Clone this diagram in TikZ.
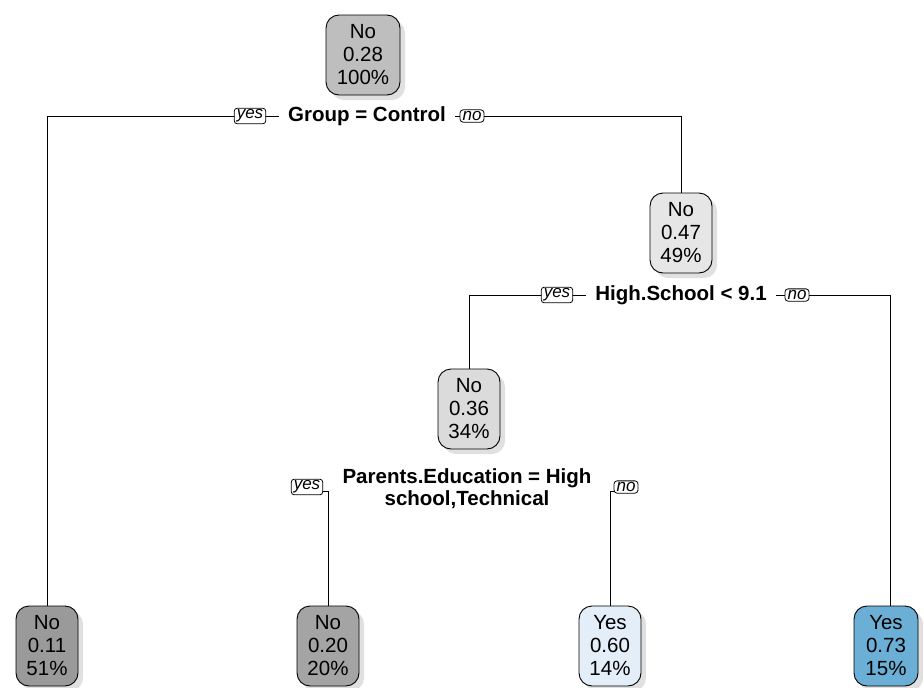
\documentclass[tikz,border=0pt]{standalone}
\usepackage{fontspec}
\setmainfont{Liberation Sans}
\begin{document}
\begin{tikzpicture}[x=1pt,y=-1pt,
  nodebox/.style={draw=black, line width=0.9pt, rounded corners=13pt, minimum width=62pt, minimum height=80pt, align=center, inner sep=0pt, font=\fontsize{20.5}{23}\selectfont},
  shadowbox/.style={fill=black!22, draw=none, rounded corners=13pt, minimum width=62pt, minimum height=80pt, inner sep=0pt},
  splittext/.style={fill=white, inner xsep=9pt, inner ysep=1pt, align=center, font=\bfseries\fontsize{20.5}{22}\selectfont},
  yn/.style={draw=black, fill=white, line width=0.8pt, rounded corners=3pt, inner xsep=2.5pt, inner ysep=1.5pt, font=\itshape\fontsize{17}{17}\selectfont},
  conn/.style={line width=0.9pt, black}
]
\useasboundingbox (0,0) rectangle (924,688);
\fill[white] (0,0) rectangle (924,688);

% shadows
\foreach \x/\y/\w in {368/60/74, 686/238/62, 474/414/62, 52/651/62, 333/651/62, 615/651/62, 891/651/64}{
  \node[shadowbox, minimum width=\w pt, opacity=0.55] at (\x,\y) {};
}

% connector corner points
\coordinate (s1L) at (47,116);
\coordinate (s1R) at (681,116);
\coordinate (s2L) at (469,295);
\coordinate (s2R) at (890,295);
\coordinate (s3L) at (307,491);
\coordinate (s3R) at (626,491);

% nodes
\node[nodebox, fill={rgb,255:red,190;green,190;blue,190}, minimum width=74pt] (root) at (363,55) {No\\0.28\\100\%};
\node[nodebox, fill={rgb,255:red,230;green,230;blue,230}] (n2) at (681,233) {No\\0.47\\49\%};
\node[nodebox, fill={rgb,255:red,219;green,219;blue,219}] (n3) at (469,409) {No\\0.36\\34\%};
\node[nodebox, fill={rgb,255:red,154;green,154;blue,154}] (l1) at (47,646) {No\\0.11\\51\%};
\node[nodebox, fill={rgb,255:red,164;green,164;blue,164}] (l2) at (328,646) {No\\0.20\\20\%};
\node[nodebox, fill={rgb,255:red,227;green,238;blue,249}] (l3) at (610,646) {Yes\\0.60\\14\%};
\node[nodebox, fill={rgb,255:red,107;green,174;blue,214}, minimum width=64pt] (l4) at (886,646) {Yes\\0.73\\15\%};

\draw[conn] (l1.north) -- (s1L) -- (s1R) -- (n2.north);
\draw[conn] (n3.north) -- (s2L) -- (s2R) -- (l4.north -| s2R);
\draw[conn] (s3L) -- (s3L -| l2.north) -- (l2.north);
\draw[conn] (s3R) -- (s3R -| l3.north) -- (l3.north);

% split labels
\node[splittext] (t1) at (367,116) {Group = Control};
\node[yn] (y1) at (250,116) {yes};
\node[yn] (no1) at (472,116) {no};

\node[splittext] (t2) at (681,295) {High.School < 9.1};
\node[yn] (y2) at (557,295) {yes};
\node[yn] (no2) at (797,295) {no};

\node[splittext, fill=none, inner xsep=0pt] (t3) at (467,489) {Parents.Education = High\\school,Technical};
\node[yn] (y3) at (307,487) {yes};
\node[yn] (no3) at (626,487) {no};
\end{tikzpicture}
\end{document}
